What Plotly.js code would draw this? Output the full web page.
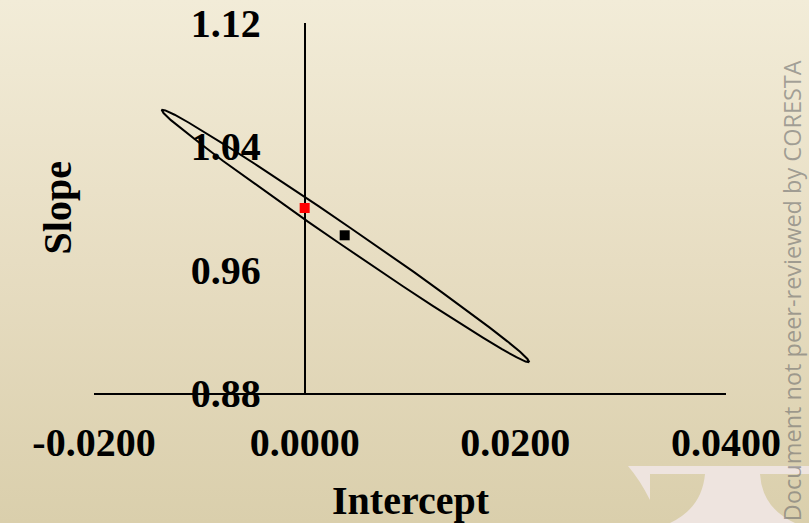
<!DOCTYPE html>
<html><head><meta charset="utf-8">
<script src="https://cdn.plot.ly/plotly-3.0.1.min.js"></script>
<style>
html,body{margin:0;padding:0;width:809px;height:523px;overflow:hidden;}
body{background:linear-gradient(to bottom,#f2ecd8 0%,#e7ddc2 50%,#dacfac 100%);position:relative;}
#logo{position:absolute;left:0;top:0;}
#chart{position:absolute;left:0;top:0;width:809px;height:523px;}
</style></head><body>
<svg id="logo" width="809" height="523"><path d="M628,466 H812 V474 H760 Q762,508 795,523 H670 Q702,508 705,474 H650 V500 Q640,480 628,466 Z" fill="#eee4df"/></svg>
<div id="chart"></div>
<script>
const xTickVals = [-0.02, 0, 0.02, 0.04];
const xTickText = ['-0.0200', '0.0000', '0.0200', '0.0400'];
const yTickVals = [0.88, 0.96, 1.04, 1.12];
const yTickText = ['0.88', '0.96', '1.04', '1.12'];

// confidence ellipse outline (Intercept, Slope)
const ellipseX = [0.02133, 0.02097, 0.02010, 0.01873, 0.01692, 0.01470, 0.01216, 0.00936, 0.00640, 0.00336,
  0.00034, -0.00257, -0.00530, -0.00774, -0.00982, -0.01150, -0.01270, -0.01340, -0.01358, -0.01323,
  -0.01235, -0.01099, -0.00917, -0.00695, -0.00441, -0.00162, 0.00135, 0.00438, 0.00741, 0.01032,
  0.01304, 0.01548, 0.01757, 0.01924, 0.02045, 0.02115, 0.02133];
const ellipseY = [0.9000, 0.9004, 0.9032, 0.9084, 0.9159, 0.9253, 0.9365, 0.9491, 0.9626, 0.9768,
  0.9910, 1.0051, 1.0184, 1.0305, 1.0413, 1.0502, 1.0570, 1.0616, 1.0637, 1.0633,
  1.0605, 1.0553, 1.0478, 1.0384, 1.0272, 1.0146, 1.0011, 0.9869, 0.9727, 0.9587,
  0.9453, 0.9332, 0.9224, 0.9135, 0.9067, 0.9021, 0.9000];

const estimateX = [0.0038];
const estimateY = [0.9823];
const idealX = [0.0];
const idealY = [1.0];

const serif = {family: 'Liberation Serif, Times New Roman, serif', size: 40, color: '#000000', weight: 'bold'};

const data = [
  {x: ellipseX, y: ellipseY, type: 'scatter', mode: 'lines', line: {color: '#000000', width: 2}, hoverinfo: 'skip', showlegend: false},
  {x: estimateX, y: estimateY, type: 'scatter', mode: 'markers', marker: {symbol: 'square', size: 10, color: '#000000'}, showlegend: false},
  {x: idealX, y: idealY, type: 'scatter', mode: 'markers', marker: {symbol: 'square', size: 10, color: '#ff0000'}, showlegend: false, cliponaxis: false}
];

const layout = {
  width: 809, height: 523,
  margin: {l: 94, r: 83, t: 23, b: 130, pad: 0},
  paper_bgcolor: 'rgba(0,0,0,0)',
  plot_bgcolor: 'rgba(0,0,0,0)',
  showlegend: false,
  xaxis: {
    range: [-0.02, 0.04], showgrid: false, zeroline: false,
    showline: true, linecolor: '#000000', linewidth: 2, layer: 'below traces',
    tickmode: 'array', tickvals: xTickVals, ticktext: xTickText,
    ticks: 'outside', ticklen: 13, tickcolor: 'rgba(0,0,0,0)',
    tickfont: serif, fixedrange: true
  },
  yaxis: {
    range: [0.88, 1.12], showgrid: false, zeroline: false,
    anchor: 'free', position: 1 / 3,
    showline: true, linecolor: '#000000', linewidth: 2, layer: 'below traces',
    tickmode: 'array', tickvals: yTickVals, ticktext: yTickText,
    ticks: 'outside', ticklen: 35, tickcolor: 'rgba(0,0,0,0)',
    tickfont: serif, fixedrange: true
  },
  annotations: [
    {text: 'Intercept', xref: 'paper', yref: 'paper', x: 0.5016, y: -0.29, xanchor: 'center', yanchor: 'middle', showarrow: false, font: serif},
    {text: 'Slope', xref: 'paper', yref: 'paper', x: -0.0578, y: 0.5, xanchor: 'center', yanchor: 'middle', textangle: -90, showarrow: false, font: serif},
    {text: 'Document not peer-reviewed by CORESTA', xref: 'paper', yref: 'paper', x: (792 - 94) / 632, y: 0.278, xanchor: 'center', yanchor: 'middle', textangle: -90, showarrow: false,
     font: {family: 'Open Sans, sans-serif', size: 23.5, color: 'rgba(110,110,110,0.6)'}}
  ]
};

Plotly.newPlot('chart', data, layout, {displayModeBar: false, staticPlot: true});
</script>
</body></html>
